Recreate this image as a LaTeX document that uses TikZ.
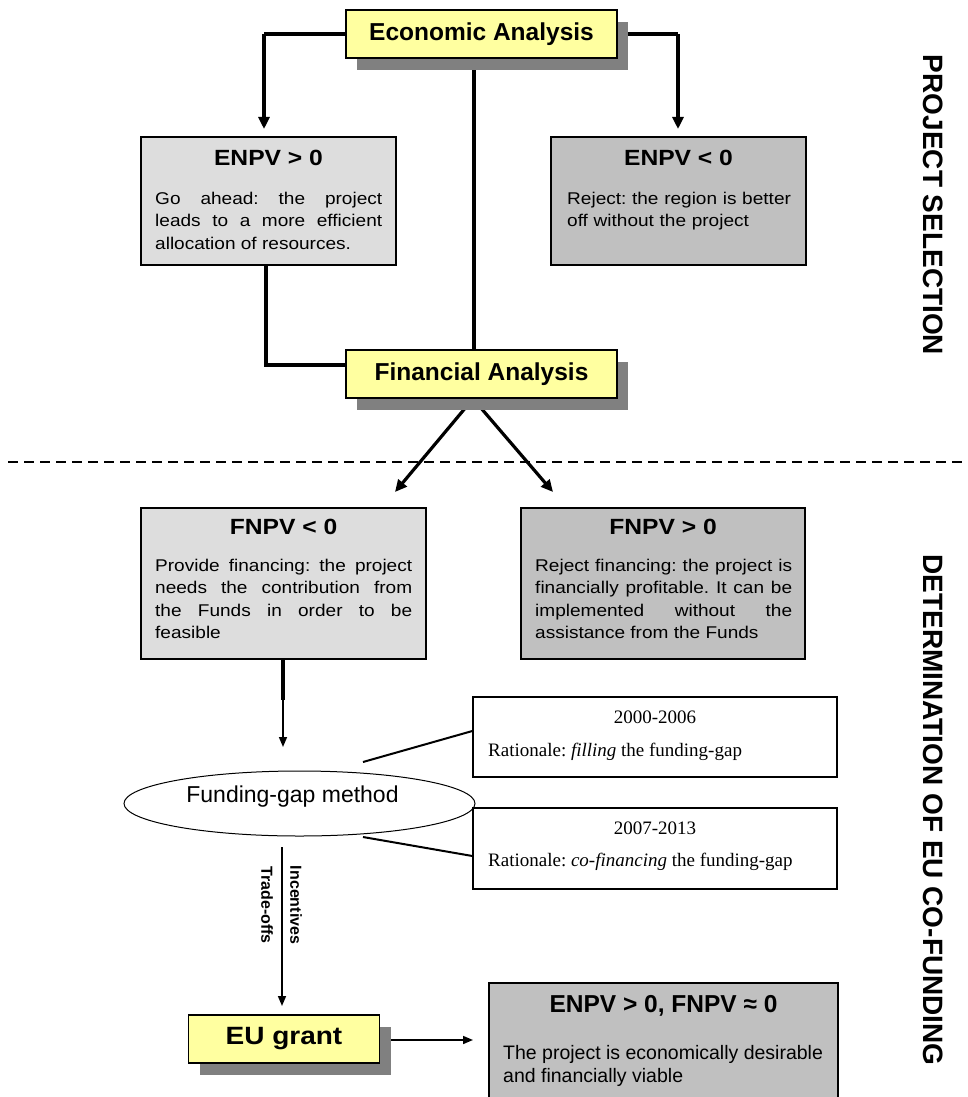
\documentclass[tikz,border=0pt]{standalone}
\usepackage{fontspec}
\setmainfont{Liberation Sans}
\newfontfamily\wf[FakeStretch=1.12]{Liberation Sans}
\newfontfamily\serf{Liberation Serif}
\usetikzlibrary{arrows.meta,shadows,shapes.geometric}
\definecolor{yel}{RGB}{255,255,160}
\definecolor{lg}{RGB}{221,221,221}
\definecolor{dg}{RGB}{192,192,192}
\definecolor{shd}{RGB}{128,128,128}
\pgfdeclarelayer{bg}
\pgfsetlayers{bg,main}
\frenchspacing
\begin{document}
\begin{tikzpicture}[x=1pt,y=-1pt,
  ybox/.style={draw, line width=1.5pt, fill=yel, minimum height=48pt, inner sep=0pt,
    drop shadow={shadow xshift=11pt, shadow yshift=-12pt, fill=shd, opacity=1}},
  gbox/.style={draw, line width=1.8pt, inner sep=0pt},
  ttl/.style={anchor=base, inner sep=0pt, font=\wf\bfseries\fontsize{22}{26}\selectfont},
  body/.style={anchor=north west, inner sep=0pt, font=\wf\fontsize{17}{22.4}\selectfont},
  conn/.style={line width=3.2pt},
  thin/.style={line width=1.6pt},
  tip/.style={-{Triangle[length=12pt,width=11pt]}},
  stip/.style={-{Triangle[length=10pt,width=8pt]}},
  side/.style={rotate=-90, inner sep=0pt, font=\bfseries\fontsize{28}{32}\selectfont},
  yrbox/.style={draw, line width=1.3pt, fill=white, inner sep=0pt, minimum width=364pt},
  ser/.style={inner sep=0pt, font=\serf\fontsize{19}{22}\selectfont},
  vlab/.style={rotate=-90, inner sep=0pt, font=\bfseries\fontsize{16}{18}\selectfont},
]
\useasboundingbox (0,0) rectangle (968,1097);

% yellow boxes
\node[ybox, minimum width=271pt, font=\bfseries\fontsize{24.5}{28}\selectfont] (econ) at (481.5,34) {Economic Analysis};
\node[ybox, minimum width=271pt, font=\bfseries\fontsize{24.5}{28}\selectfont] (fin) at (481.5,374) {Financial Analysis};
\node[ybox, minimum width=191pt, font=\wf\bfseries\fontsize{25}{28}\selectfont] (eu) at (284,1039) {EU grant};

% grey boxes
\node[gbox, fill=lg, minimum width=255pt, minimum height=128pt] (enpvp) at (268.5,201) {};
\node[gbox, fill=dg, minimum width=255pt, minimum height=128pt] (enpvn) at (678.5,201) {};
\node[gbox, fill=lg, minimum width=285pt, minimum height=151pt] (fnpvn) at (283.5,583.5) {};
\node[gbox, fill=dg, minimum width=284pt, minimum height=151pt] (fnpvp) at (663,583.5) {};
\node[gbox, fill=dg, minimum width=349pt, minimum height=130pt] (final) at (663.5,1048) {};

% titles
\node[ttl] (t1) at (268.5,165) {ENPV > 0};
\node[ttl] (t2) at (678.5,165) {ENPV < 0};
\node[ttl] (t3) at (283.5,534) {FNPV < 0};
\node[ttl] (t4) at (663,534) {FNPV > 0};
\node[anchor=base, inner sep=0pt, font=\bfseries\fontsize{24.5}{28}\selectfont] (t5) at (663.5,1012) {ENPV > 0, FNPV ≈ 0};

% bodies
\node[body, text width=227pt, align=justify] (b1) at (155,191.8)
  {Go ahead: the project\linebreak leads to a more efficient\linebreak allocation of resources.};
\node[body, text width=235pt, align=left] (b2) at (567,191.5)
  {Reject: the region is better\\off without the project};
\node[body, text width=257pt, align=justify] (b3) at (155,558.8)
  {Provide financing: the project\linebreak needs the contribution from\linebreak the Funds in order to be\linebreak feasible};
\node[body, text width=257pt, align=justify] (b4) at (535,558.8)
  {Reject financing: the project is\linebreak financially profitable. It can be\linebreak implemented without the\linebreak assistance from the Funds};
\node[anchor=north west, inner sep=0pt, align=left, font=\fontsize{19.5}{23}\selectfont] (b5) at (503,1045)
  {The project is economically desirable\\and financially viable};

% ellipse and period boxes
\node[draw, ellipse, line width=1pt, minimum width=351pt, minimum height=65pt, inner sep=0pt] (fg) at (299.5,803.5) {};
\node[inner sep=0pt, font=\fontsize{23}{26}\selectfont] (fgt) at (292.5,797) {Funding-gap method};

\node[yrbox, minimum height=80pt] (p1) at (655,737) {};
\node[ser] (p1a) at (655,717) {2000-2006};
\node[ser, anchor=west] (p1b) at (488,752) {Rationale: \textit{filling} the funding-gap};
\node[yrbox, minimum height=81pt] (p2) at (655,848.5) {};
\node[ser] (p2a) at (655,828) {2007-2013};
\node[ser, anchor=west] (p2b) at (488,862) {Rationale: \textit{co-financing} the funding-gap};

% rotated labels
\node[side] (ps) at (933,205) {PROJECT SELECTION};
\node[side] (dt) at (933,810) {DETERMINATION OF EU CO-FUNDING};
\node[vlab] (inc) at (296,905) {Incentives};
\node[vlab] (tro) at (267,905) {Trade-offs};

% coordinates
\coordinate (eL) at (264,34);
\coordinate (eLt) at (264,129);
\coordinate (eR) at (678,34);
\coordinate (eRt) at (678,129);
\coordinate (c1) at (266,365);
\coordinate (aL) at (395,492);
\coordinate (aR) at (553,492);
\coordinate (d1) at (283,700);
\coordinate (d2) at (283,747);
\coordinate (k1) at (363,762);
\coordinate (k2) at (363,837);
\coordinate (g1) at (282,847);
\coordinate (g2) at (282,1006);
\coordinate (f1) at (473,1040);
\coordinate (dl) at (8,462);
\coordinate (dr) at (968,462);

\begin{pgfonlayer}{bg}
\draw[conn] (econ.west) -- (eL);
\draw[conn, tip] (eL) -- (eLt);
\draw[conn] (econ.east) -- (eR);
\draw[conn, tip] (eR) -- (eRt);
\draw[conn] ([xshift=-7.5pt]econ.south) -- ([xshift=-7.5pt]fin.north);
\draw[conn] (enpvp.south -| c1) -- (c1) -- (c1 -| fin.west);
\draw[conn, tip] ([xshift=-8.5pt]fin.south) -- (aL);
\draw[conn, tip] ([xshift=-8.5pt]fin.south) -- (aR);
\draw[line width=2pt, dash pattern=on 10pt off 6pt] (dl) -- (dr);
\draw[line width=3.2pt] (fnpvn.south -| d1) -- (d1);
\draw[thin, stip] (d1) -- (d2);
\draw[line width=2pt] (k1) -- (p1.west |- 0,731);
\draw[line width=2pt] (k2) -- (p2.west |- 0,856);
\draw[thin, stip] (g1) -- (g2);
\draw[thin, stip] (eu.east |- f1) -- (f1);
\end{pgfonlayer}
\end{tikzpicture}
\end{document}
